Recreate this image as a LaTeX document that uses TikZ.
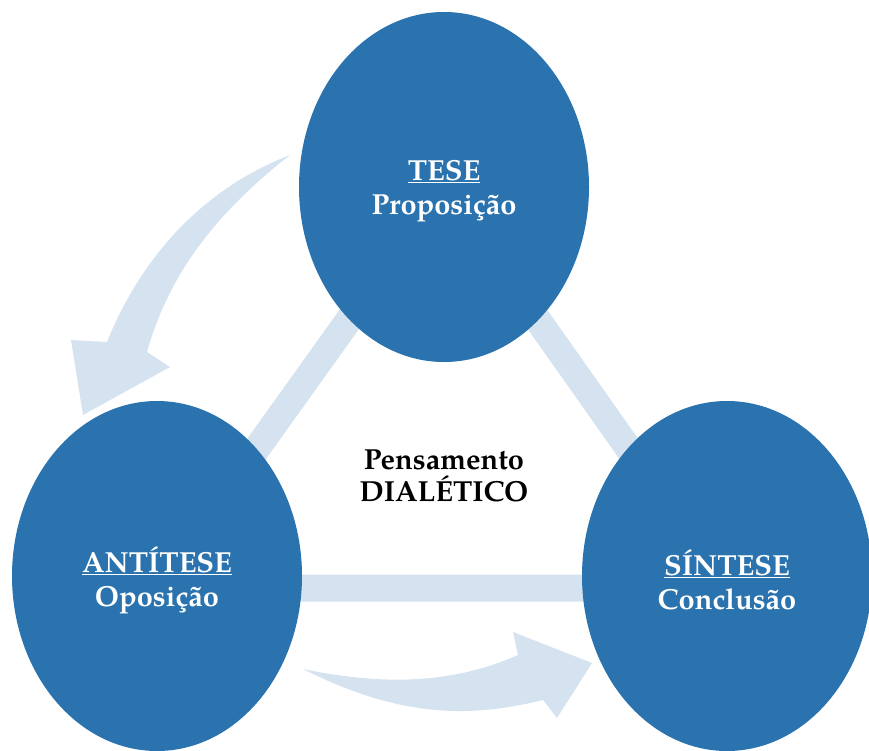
\documentclass[tikz,border=0pt]{standalone}
\usepackage{fontspec}
\setmainfont{texgyrepagella}[Extension=.otf, UprightFont=*-regular,
  BoldFont=*-bold, ItalicFont=*-italic, BoldItalicFont=*-bolditalic]
\usepackage{tikz}
\usetikzlibrary{positioning}
\usetikzlibrary{shapes.geometric,backgrounds}
\definecolor{azul}{HTML}{2A73AF}
\definecolor{azulclaro}{HTML}{D5E2EF}
\tikzset{
  polo/.style = {ellipse, fill=azul, inner sep=0pt,
    minimum width=290pt, minimum height=350pt},% elipse azul
  rotulo/.style = {align=center, text=white, yshift=-4pt,
    font=\bfseries\fontsize{29}{34}\selectfont},% texto da elipse
  faixa/.style = {draw=azulclaro, line width=27pt},% triangulo ao fundo
  seta/.style = {fill=azulclaro},% seta curva
  centro/.style = {align=center, font=\bfseries\fontsize{29}{32}\selectfont}
}
\begin{document}
\begin{tikzpicture}[x=1pt,y=-1pt]
\useasboundingbox (0,0) rectangle (869,751);
\node [polo, label={[rotulo]center:\underline{TESE}\\Proposição}] (tese) at (444,187) {};
\node [polo, label={[rotulo]center:\underline{ANTÍTESE}\\Oposição}] (antitese) at (157,576) {};
\node [polo, label={[rotulo]center:\underline{SÍNTESE}\\Conclusão}] (sintese) at (727,576) {};
\node [centro] (pensamento) at (444,476) {Pensamento\\DIALÉTICO};
\begin{scope}[on background layer]
% faixa triangular atras das elipses
\draw [faixa] ([yshift=-12pt]antitese.center) -- (tese.center)
  -- ([yshift=-12pt]sintese.center) -- cycle;
% seta de cima: tese -> antitese
\fill [seta] (290,155) .. controls (200,190) and (140,260) .. (107,342)
  -- (71,340) -- (83,415) -- (170,367) -- (147,352)
  .. controls (170,270) and (220,210) .. (290,155) -- cycle;
% seta de baixo: antitese -> sintese
\fill [seta] (303,669) .. controls (380,685) and (450,685) .. (518,655)
  -- (513,632) -- (592,663) -- (557,718) -- (543,700)
  .. controls (470,718) and (400,718) .. (303,669) -- cycle;
\end{scope}
\end{tikzpicture}
\end{document}
